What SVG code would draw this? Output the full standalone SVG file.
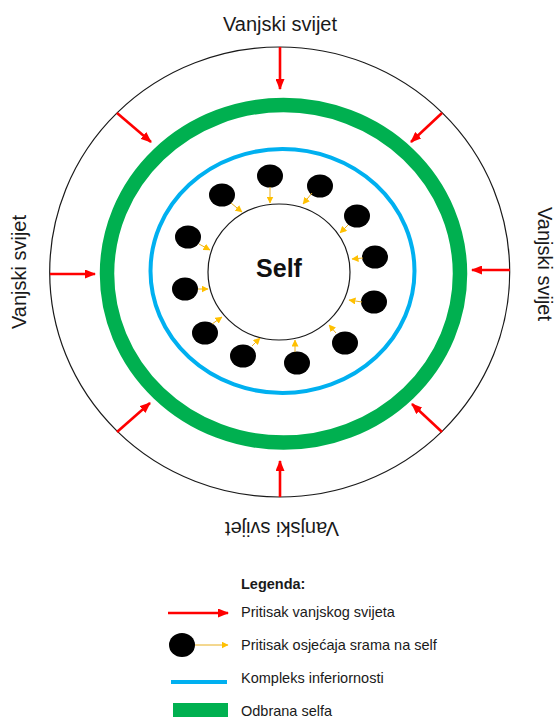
<svg xmlns="http://www.w3.org/2000/svg" width="555" height="718" viewBox="0 0 555 718">
<style>
.lbl{font-family:"Liberation Sans",Arial,sans-serif;font-size:20px;fill:#1a1a1a}
.leg{font-family:"Liberation Sans",Arial,sans-serif;font-size:14.5px;fill:#1a1a1a}
.red{stroke:#FF0000;stroke-width:2.6;fill:none;marker-end:url(#ra)}
.yel{stroke:#E8B020;stroke-width:1;fill:none;marker-end:url(#ya)}
.dot{fill:#000}
</style>
<defs>
<marker id="ra" markerUnits="userSpaceOnUse" markerWidth="11" markerHeight="9" refX="10" refY="4.5" orient="auto">
<path d="M0,0 L11,4.5 L0,9 z" fill="#FF0000"/>
</marker>
<marker id="ya" markerUnits="userSpaceOnUse" markerWidth="7" markerHeight="7" refX="6.5" refY="3.5" orient="auto">
<path d="M0,0 L7,3.5 L0,7 z" fill="#FFC000"/>
</marker>
</defs>
<rect width="555" height="718" fill="#fff"/>
<g id="outer-world">
<ellipse cx="279.7" cy="272" rx="230" ry="225" fill="none" stroke="#1a1a1a" stroke-width="1.2"/>
</g>
<g id="defense-ring">
<ellipse cx="283.5" cy="273.8" rx="176.5" ry="168.8" fill="none" stroke="#00B050" stroke-width="14.5"/>
</g>
<g id="inferiority-ring">
<ellipse cx="282.5" cy="271" rx="132" ry="122" fill="none" stroke="#00B0F0" stroke-width="4"/>
</g>
<g id="self">
<ellipse cx="279" cy="272" rx="71" ry="68" fill="#fff" stroke="#1a1a1a" stroke-width="1.2"/>
<text x="279" y="277" text-anchor="middle" font-family="Liberation Sans,Arial,sans-serif" font-weight="bold" font-size="25" fill="#111">Self</text>
</g>
<g id="shame-dots">
<ellipse class="dot" cx="270" cy="176" rx="13" ry="11.5"/>
<ellipse class="dot" cx="320" cy="186" rx="13" ry="11.5"/>
<ellipse class="dot" cx="222" cy="195" rx="13" ry="11.5"/>
<ellipse class="dot" cx="357" cy="216" rx="13" ry="11.5"/>
<ellipse class="dot" cx="188" cy="237" rx="13" ry="11.5"/>
<ellipse class="dot" cx="375" cy="257" rx="13" ry="11.5"/>
<ellipse class="dot" cx="185" cy="289" rx="13" ry="11.5"/>
<ellipse class="dot" cx="374" cy="302" rx="13" ry="11.5"/>
<ellipse class="dot" cx="205" cy="333" rx="13" ry="11.5"/>
<ellipse class="dot" cx="345" cy="343" rx="13" ry="11.5"/>
<ellipse class="dot" cx="243" cy="356" rx="13" ry="11.5"/>
<ellipse class="dot" cx="297" cy="363" rx="13" ry="11.5"/>
</g>
<g id="connectors">
<path class="red" d="M280,47 L280,89"/>
<path class="red" d="M280,497 L280,461"/>
<path class="red" d="M50,274 L95,274"/>
<path class="red" d="M510,270 L472,270"/>
<path class="red" d="M117,113 L151,142"/>
<path class="red" d="M442,113 L411,142"/>
<path class="red" d="M117,432 L150,403"/>
<path class="red" d="M442,432 L412,404"/>
<path class="yel" d="M270,187 L270,203"/>
<path class="yel" d="M312,193 L303,204"/>
<path class="yel" d="M231,203 L242,212"/>
<path class="yel" d="M348,225 L340,233"/>
<path class="yel" d="M199,244 L210,250"/>
<path class="yel" d="M363,258 L352,259"/>
<path class="yel" d="M198,289 L208,289"/>
<path class="yel" d="M362,302 L349,300"/>
<path class="yel" d="M212,324 L222,317"/>
<path class="yel" d="M336,333 L329,325"/>
<path class="yel" d="M252,346 L260,338"/>
<path class="yel" d="M295,352 L295,340"/>
</g>
<g id="labels">
<text class="lbl" x="280" y="31" text-anchor="middle">Vanjski svijet</text>
<text class="lbl" transform="translate(26,272) rotate(-90)" text-anchor="middle">Vanjski svijet</text>
<text class="lbl" transform="translate(538,264) rotate(90)" text-anchor="middle">Vanjski svijet</text>
<text class="lbl" transform="translate(282,522) rotate(180)" text-anchor="middle">Vanjski svijet</text>
</g>
<g id="legend">
<text class="leg" x="241" y="589" font-weight="bold" font-size="13.5">Legenda:</text>
<path class="red" d="M168,613 L228,613"/>
<text class="leg" x="241" y="617">Pritisak vanjskog svijeta</text>
<ellipse class="dot" cx="182" cy="645" rx="13" ry="12"/>
<path class="yel" d="M195,645 L228,645" stroke="#C9A040"/>
<text class="leg" x="241" y="650">Pritisak osjećaja srama na self</text>
<line x1="171" y1="682" x2="227" y2="682" stroke="#00B0F0" stroke-width="4"/>
<text class="leg" x="241" y="683">Kompleks inferiornosti</text>
<rect x="173" y="703" width="55" height="14" fill="#00B050"/>
<text class="leg" x="241" y="716">Odbrana selfa</text>
</g>
</svg>
